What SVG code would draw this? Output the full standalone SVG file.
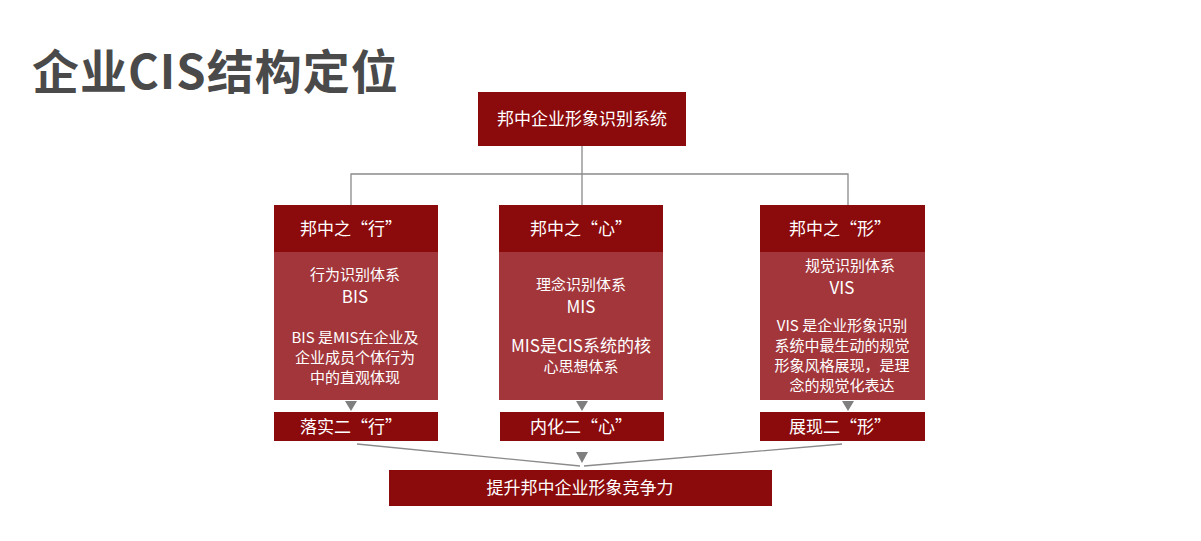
<svg xmlns="http://www.w3.org/2000/svg" width="1201" height="541" viewBox="0 0 1201 541">
<style>
.d{fill:#8b0a0c}.b{fill:#a2363b}
text{font-family:"Noto Sans CJK SC","Liberation Sans",sans-serif;fill:#fff;text-anchor:middle}
.t{font-size:17px}.s{font-size:15px}.m{font-size:15px}
.ln{stroke:#8a8a8a;stroke-width:1.3;fill:none}
.tri{fill:#7f7f7f}
</style>
<rect width="1201" height="541" fill="#fff"/>
<text x="32" y="89" style="font-size:47px;font-weight:bold;fill:#4a4a4a;text-anchor:start;letter-spacing:1px">企业CIS结构定位</text>
<g id="connectors">
<path class="ln" d="M582 146V174M351 205V174H848V205M582 174V205"/>
<path class="ln" d="M357 444L580 466M842 444L584 466"/>
<path class="tri" d="M345 401H357L351 411Z"/>
<path class="tri" d="M576 401H588L582 411Z"/>
<path class="tri" d="M842 401H854L848 411Z"/>
<path class="tri" d="M576 452H588L582 463Z"/>
</g>
<g id="top"><rect class="d" x="478" y="92" width="208" height="54"/><text class="t" x="582" y="125">邦中企业形象识别系统</text></g>
<g id="col1">
<rect class="d" x="274" y="205" width="164" height="47"/><text class="t" x="351" y="235">邦中之“行”</text>
<rect class="b" x="274" y="252" width="164" height="148"/>
<text class="s" x="355" y="280">行为识别体系</text><text class="t" x="355" y="303">BIS</text>
<text class="m" x="355" y="343">BIS 是MIS在企业及</text><text class="m" x="355" y="363">企业成员个体行为</text><text class="m" x="355" y="383">中的直观体现</text>
</g>
<g id="b1"><rect class="d" x="274" y="412" width="164" height="29"/><text class="t" x="351" y="433">落实二“行”</text></g>
<g id="col2">
<rect class="d" x="499" y="205" width="164" height="47"/><text class="t" x="581" y="235">邦中之“心”</text>
<rect class="b" x="499" y="252" width="164" height="148"/>
<text class="s" x="581" y="290">理念识别体系</text><text class="t" x="581" y="313">MIS</text>
<text class="t" x="581" y="352">MIS是CIS系统的核</text><text class="s" x="581" y="372">心思想体系</text>
</g>
<g id="b2"><rect class="d" x="500" y="412" width="164" height="29"/><text class="t" x="581" y="433">内化二“心”</text></g>
<g id="col3">
<rect class="d" x="760" y="205" width="165" height="47"/><text class="t" x="840" y="235">邦中之“形”</text>
<rect class="b" x="760" y="252" width="165" height="148"/>
<text class="m" x="850" y="271">规觉识别体系</text><text class="t" x="842" y="294">VIS</text>
<text class="m" x="842" y="331">VIS 是企业形象识别</text><text class="m" x="842" y="351">系统中最生动的规觉</text><text class="m" x="842" y="371">形象风格展现，是理</text><text class="m" x="842" y="391">念的规觉化表达</text>
</g>
<g id="b3"><rect class="d" x="760" y="412" width="165" height="29"/><text class="t" x="840" y="433">展现二“形”</text></g>
<g id="bottom"><rect class="d" x="389" y="470" width="383" height="36"/><text class="t" x="580" y="494">提升邦中企业形象竞争力</text></g>
</svg>
